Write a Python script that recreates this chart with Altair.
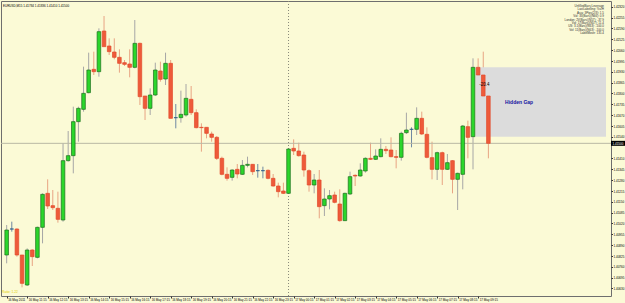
import json
import altair as alt
import pandas as pd

# ---- data (EURUSD M15, 16-17 May 2011) ----
opens = [1.40830, 1.40986, 1.40986, 1.40830, 1.40650, 1.40860, 1.40816, 1.40996, 1.41200, 1.41126,
         1.41110, 1.41040, 1.41396, 1.41426, 1.41630, 1.41704, 1.41804, 1.41944, 1.41930, 1.42174,
         1.42084, 1.42048, 1.42016, 1.41984, 1.41976, 1.41956, 1.42100, 1.41784, 1.41710, 1.41790,
         1.41934, 1.41886, 1.41980, 1.41654, 1.41654, 1.41670, 1.41764, 1.41684, 1.41596, 1.41596,
         1.41556, 1.41536, 1.41410, 1.41314, 1.41296, 1.41344, 1.41314, 1.41368, 1.41374, 1.41336,
         1.41336, 1.41338, 1.41290, 1.41244, 1.41214, 1.41200, 1.41470, 1.41454, 1.41430, 1.41336,
         1.41250, 1.41280, 1.41126, 1.41166, 1.41190, 1.41136, 1.41036, 1.41196, 1.41308, 1.41304,
         1.41334, 1.41410, 1.41404, 1.41420, 1.41464, 1.41460, 1.41420, 1.41416, 1.41564, 1.41584,
         1.41584, 1.41650, 1.41554, 1.41414, 1.41344, 1.41444, 1.41344, 1.41396, 1.41284, 1.41314,
         1.41600, 1.41540, 1.41956, 1.41910, 1.41784]
highs = [1.41010, 1.41030, 1.40990, 1.40830, 1.40870, 1.40864, 1.41000, 1.41200, 1.41284, 1.41220,
         1.41210, 1.41500, 1.41574, 1.41720, 1.41720, 1.41960, 1.42044, 1.42050, 1.42190, 1.42264,
         1.42130, 1.42130, 1.42064, 1.42000, 1.42064, 1.42240, 1.42104, 1.41784, 1.41830, 1.41984,
         1.41990, 1.42044, 1.42000, 1.41736, 1.41816, 1.41856, 1.41844, 1.41704, 1.41620, 1.41596,
         1.41570, 1.41544, 1.41420, 1.41356, 1.41344, 1.41376, 1.41400, 1.41420, 1.41376, 1.41376,
         1.41360, 1.41344, 1.41316, 1.41264, 1.41264, 1.41470, 1.41524, 1.41504, 1.41450, 1.41344,
         1.41316, 1.41340, 1.41230, 1.41220, 1.41210, 1.41224, 1.41204, 1.41330, 1.41314, 1.41380,
         1.41416, 1.41504, 1.41464, 1.41530, 1.41484, 1.41536, 1.41460, 1.41570, 1.41684, 1.41596,
         1.41716, 1.41690, 1.41596, 1.41510, 1.41450, 1.41450, 1.41436, 1.41400, 1.41324, 1.41610,
         1.41636, 1.42010, 1.42010, 1.42050, 1.41836]
lows = [1.40780, 1.40970, 1.40820, 1.40636, 1.40644, 1.40764, 1.40810, 1.40900, 1.41106, 1.41100,
        1.41024, 1.41030, 1.41390, 1.41320, 1.41510, 1.41690, 1.41800, 1.41910, 1.41900, 1.42080,
        1.42030, 1.42004, 1.41924, 1.41964, 1.41896, 1.41950, 1.41730, 1.41640, 1.41670, 1.41784,
        1.41870, 1.41850, 1.41650, 1.41590, 1.41624, 1.41660, 1.41670, 1.41590, 1.41450, 1.41530,
        1.41510, 1.41400, 1.41308, 1.41276, 1.41276, 1.41290, 1.41310, 1.41356, 1.41310, 1.41294,
        1.41290, 1.41284, 1.41240, 1.41176, 1.41196, 1.41196, 1.41430, 1.41420, 1.41300, 1.41210,
        1.41200, 1.41050, 1.41064, 1.41104, 1.41140, 1.41030, 1.41034, 1.41190, 1.41244, 1.41300,
        1.41324, 1.41400, 1.41400, 1.41416, 1.41436, 1.41416, 1.41350, 1.41396, 1.41556, 1.41476,
        1.41550, 1.41550, 1.41410, 1.41284, 1.41280, 1.41250, 1.41340, 1.41200, 1.41100, 1.41224,
        1.41410, 1.41344, 1.41790, 1.41760, 1.41410]
closes = [1.40980, 1.40986, 1.40830, 1.40660, 1.40860, 1.40820, 1.40996, 1.41194, 1.41124, 1.41114,
          1.41044, 1.41396, 1.41426, 1.41630, 1.41710, 1.41800, 1.41940, 1.41930, 1.42170, 1.42080,
          1.42050, 1.42016, 1.41980, 1.41974, 1.41956, 1.42100, 1.41780, 1.41710, 1.41790, 1.41940,
          1.41884, 1.41980, 1.41650, 1.41654, 1.41674, 1.41770, 1.41684, 1.41594, 1.41594, 1.41560,
          1.41536, 1.41410, 1.41314, 1.41290, 1.41340, 1.41316, 1.41368, 1.41374, 1.41330, 1.41336,
          1.41336, 1.41290, 1.41244, 1.41210, 1.41200, 1.41466, 1.41454, 1.41426, 1.41340, 1.41250,
          1.41280, 1.41120, 1.41166, 1.41186, 1.41146, 1.41036, 1.41200, 1.41300, 1.41304, 1.41340,
          1.41410, 1.41404, 1.41424, 1.41464, 1.41456, 1.41420, 1.41416, 1.41560, 1.41580, 1.41584,
          1.41650, 1.41556, 1.41416, 1.41344, 1.41444, 1.41344, 1.41384, 1.41284, 1.41320, 1.41604,
          1.41536, 1.41956, 1.41910, 1.41784, 1.41500]

time_tick_bars = [0, 4, 8, 12, 16, 20, 24, 28, 32, 36, 40, 44, 48, 52, 56, 60, 64, 68, 72, 76, 80, 84, 88, 92]
time_tick_labels = ["16 May 2011", "16 May 11:15", "16 May 12:15", "16 May 13:15", "16 May 14:15",
                    "16 May 15:15", "16 May 16:15", "16 May 17:15", "16 May 18:15", "16 May 19:15",
                    "16 May 20:15", "16 May 21:15", "16 May 22:15", "16 May 23:15", "17 May 00:15",
                    "17 May 01:15", "17 May 02:15", "17 May 03:15", "17 May 04:15", "17 May 05:15",
                    "17 May 06:15", "17 May 07:15", "17 May 08:15", "17 May 09:15"]
price_ticks = [1.42320, 1.42255, 1.42190, 1.42125, 1.42060, 1.41995, 1.41930, 1.41865, 1.41800,
               1.41735, 1.41670, 1.41605, 1.41540, 1.41410, 1.41345, 1.41280, 1.41215, 1.41150,
               1.41085, 1.41020, 1.40955, 1.40890, 1.40825, 1.40760, 1.40695, 1.40630]

day_separator_bar = 55
gap_bar = 91
gap_label = "Hidden Gap"
gap_size_label = "-20.4"
gap_size_bar = 93.2
gap_size_price = 1.41850
info_lines = ["UnfilledBars:Leverage", "LastLabelling:   %s/H", "Asia: 3Pips(2/3):   1.5",
              "Vol: 33(Bars)(N66):   0.9", "London: 2V(Bars)(N57):  -37.9", "Vol: 17(Bars)(N57):   11.4",
              "US: 3.1(Bars)(N63):  -100.0", "Vol: 11(Bars)(N63):  -100.0", "", "LabelMove:  135.4"]
symbol_title = "EURUSD,M15  1.41784 1.41836 1.41410 1.41500"
ratio_text = "Ratio: 1.22"

# ---- table ----
n = len(opens)
df = pd.DataFrame({"i": list(range(n)), "open": opens, "high": highs, "low": lows, "close": closes})
df["dir"] = ["up" if c > o else ("down" if c < o else "doji") for o, c in zip(opens, closes)]

W, H = 610, 295
FONT = "Liberation Sans"
xs = alt.Scale(domain=[-0.13, 116.95], nice=False, zero=False)
ys = alt.Scale(domain=[1.40584, 1.42354], nice=False, zero=False)

x_axis = alt.Axis(values=time_tick_bars,
                  labelExpr=json.dumps(time_tick_labels) + "[round(datum.value / 4)]",
                  title=None, grid=False, domain=False, tickSize=2, tickColor="#333333",
                  labelFont=FONT, labelFontSize=3, labelColor="#000000", labelAlign="left",
                  labelBaseline="top", labelPadding=0, labelOffset=1,
                  labelOverlap=False, labelFlush=False)
y_axis = alt.Axis(orient="right", values=price_ticks, format=".5f", title=None, grid=False,
                  domain=False, tickSize=1.5, tickColor="#333333", labelFont=FONT,
                  labelFontSize=3, labelColor="#000000", labelPadding=0.5,
                  labelOverlap=False, labelFlush=False)

dirs = ["up", "down", "doji"]
wick_scale = alt.Scale(domain=dirs, range=["#A6A6A6", "#E8A483", "#6F88A2"])
fill_scale = alt.Scale(domain=dirs, range=["#2BD62B", "#EE5A3A", "#2A5A8A"])
stroke_scale = alt.Scale(domain=dirs, range=["#1D6E1D", "#E2492B", "#2A5A8A"])


def X(field):
    return alt.X(field, scale=xs, axis=x_axis)


def Y(field):
    return alt.Y(field, scale=ys, axis=y_axis)


base = alt.Chart(df)

gap_df = pd.DataFrame({"x": [gap_bar + 0.45], "x2": [116.95],
                       "lo": [opens[gap_bar]], "hi": [closes[gap_bar]],
                       "mx": [100.0], "my": [(opens[gap_bar] + closes[gap_bar]) / 2]})
gap_rect = alt.Chart(gap_df).mark_rect(color="#DCDCDC", clip=True).encode(
    x=X("x:Q"), x2="x2:Q", y=Y("lo:Q"), y2="hi:Q")
gap_text = alt.Chart(gap_df).mark_text(text=gap_label, font=FONT, fontSize=5, fontWeight="bold",
                                       color="#1414A0").encode(x=X("mx:Q"), y=Y("my:Q"))

last_df = pd.DataFrame({"p": [closes[-1]], "t": [f"{closes[-1]:.5f}"]})
bid_line = alt.Chart(last_df).mark_rule(color="#B9B9A4", strokeWidth=1).encode(
    y=Y("p:Q"), x=alt.value(0), x2=alt.value(W))
price_box = alt.Chart(last_df).mark_rect(color="#000000", yOffset=-2.5, y2Offset=2.5).encode(
    y=Y("p:Q"), y2="p:Q", x=alt.value(W), x2=alt.value(W + 14))
price_box_text = alt.Chart(last_df).mark_text(font=FONT, fontSize=3, color="#FFFFFF", align="left",
                                              baseline="middle").encode(
    y=Y("p:Q"), x=alt.value(W + 1.5), text="t:N")

sep_df = pd.DataFrame({"i": [day_separator_bar]})
sep = alt.Chart(sep_df).mark_rule(color="#8A8A7A", strokeDash=[1, 2], strokeWidth=1).encode(
    x=X("i:Q"), y=alt.value(0), y2=alt.value(H))

wicks = base.mark_rule(strokeWidth=1, clip=True).encode(
    x=X("i:Q"), y=Y("low:Q"), y2="high:Q",
    color=alt.Color("dir:N", scale=wick_scale, legend=None))

bodies = base.mark_bar(size=3.6, strokeWidth=0.7, clip=True).encode(
    x=X("i:Q"), y=Y("open:Q"), y2="close:Q",
    fill=alt.Fill("dir:N", scale=fill_scale, legend=None),
    stroke=alt.Stroke("dir:N", scale=stroke_scale, legend=None))

size_df = pd.DataFrame({"x": [gap_size_bar], "y": [gap_size_price]})
size_text = alt.Chart(size_df).mark_text(text=gap_size_label, font=FONT, fontSize=4.5,
                                         color="#000000").encode(x=X("x:Q"), y=Y("y:Q"))

title_txt = alt.Chart(sep_df).mark_text(text=symbol_title, font=FONT, fontSize=3, color="#000000",
                                        align="left", baseline="middle").encode(
    x=alt.value(2), y=alt.value(5))
info_txt = alt.Chart(sep_df).mark_text(text="\n".join(info_lines), lineBreak="\n", lineHeight=3.4,
                                       font=FONT, fontSize=3, color="#333333", align="right",
                                       baseline="top").encode(
    x=alt.value(603), y=alt.value(4))
ratio_txt = alt.Chart(sep_df).mark_text(text=ratio_text, font=FONT, fontSize=3.3, color="#E2D000",
                                        align="left", baseline="middle").encode(
    x=alt.value(1), y=alt.value(291))

chart = alt.layer(
    wicks, gap_rect, bid_line, sep, bodies, gap_text, size_text,
    price_box, price_box_text, title_txt, info_txt, ratio_txt
).resolve_scale(color="independent").properties(
    width=W, height=H,
    autosize=alt.AutoSizeParams(type="none"),
    padding={"left": 1, "top": 1, "right": 14, "bottom": 7},
    background="#FBFAD6",
).configure_view(stroke="#6E6E6E", strokeWidth=1)

chart.save("out.html", embed_options={"renderer": "svg", "actions": False})
